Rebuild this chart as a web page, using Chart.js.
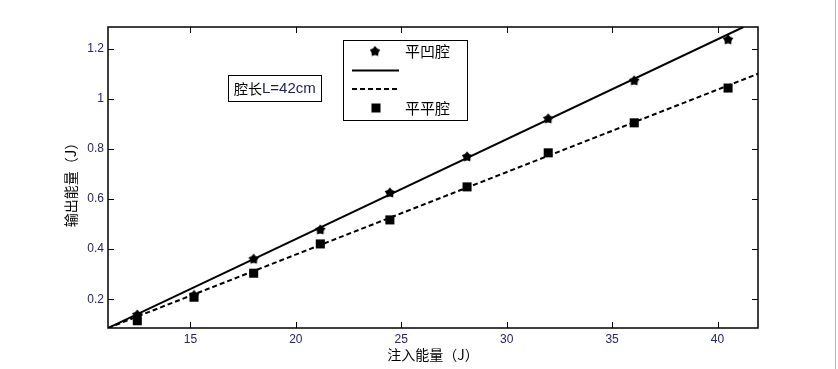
<!DOCTYPE html>
<html>
<head>
<meta charset="utf-8">
<script src="https://cdn.jsdelivr.net/npm/chart.js@4/dist/chart.umd.min.js"></script>
<style>
html,body{margin:0;padding:0;background:#fff;}
#wrap{position:relative;width:838px;height:369px;}
</style>
</head>
<body>
<div id="wrap"><canvas id="c" width="838" height="369"></canvas></div>
<script>
// ---- data ----
const injectedEnergy = [12.48, 15.17, 18.0, 21.16, 24.46, 28.12, 31.97, 36.05, 40.5];
const concaveOutput = [0.137, 0.215, 0.36, 0.477, 0.625, 0.769, 0.921, 1.073, 1.237];
const flatOutput    = [0.114, 0.208, 0.304, 0.421, 0.517, 0.649, 0.785, 0.905, 1.044];
const concaveFitX = [11.09, 41.23];
const concaveFitY = [0.085, 1.288];
const flatFitX = [11.09, 41.92];
const flatFitY = [0.085, 1.101];
const xTicks = [15, 20, 25, 30, 35, 40];
const yTicks = [0.2, 0.4, 0.6, 0.8, 1.0, 1.2];
const yTickLabels = ['0.2', '0.4', '0.6', '0.8', '1', '1.2'];
const legendLabels = ['平凹腔', '', '', '平平腔'];
const xTitle = '注入能量（J）';
const yTitle = '输出能量（J）';
const noteCJK = '腔长';
const noteLatin = 'L=42cm';

// filled pentagram marker (blob-like, as in the reference)
function makeStar(){
  const c = document.createElement('canvas');
  c.width = 12; c.height = 12;
  const g = c.getContext('2d');
  g.fillStyle = '#000';
  g.beginPath();
  for (let i = 0; i < 10; i++) {
    const r = i % 2 === 0 ? 5.5 : 3.6;
    const a = -Math.PI / 2 + i * Math.PI / 5;
    const px = 6 + r * Math.cos(a), py = 6 + r * Math.sin(a);
    if (i === 0) g.moveTo(px, py); else g.lineTo(px, py);
  }
  g.closePath(); g.fill();
  return c;
}
const starImg = makeStar();

const pts = (xs, ys) => xs.map((x, i) => ({x: x, y: ys[i]}));
const TICKCOL = '#26245e';

const framePlugin = {
  id: 'frame',
  beforeDraw(chart) {
    const ctx = chart.ctx;
    ctx.save();
    ctx.fillStyle = '#fff';
    ctx.fillRect(0, 0, chart.width, chart.height);
    ctx.strokeStyle = '#b4b4b4';
    ctx.lineWidth = 1;
    ctx.beginPath(); ctx.moveTo(835.5, 0); ctx.lineTo(835.5, chart.height); ctx.stroke();
    ctx.restore();
  },
  afterDraw(chart) {
    const ctx = chart.ctx, a = chart.chartArea;
    const xs = chart.scales.x, ys = chart.scales.y;
    ctx.save();
    ctx.strokeStyle = '#000';
    ctx.lineWidth = 1.5;
    ctx.strokeRect(a.left, a.top, a.right - a.left, a.bottom - a.top);
    ctx.lineWidth = 1;
    const tl = 6;
    ctx.beginPath();
    xTicks.forEach(v => {
      const p = Math.round(xs.getPixelForValue(v)) + 0.5;
      ctx.moveTo(p, a.bottom); ctx.lineTo(p, a.bottom - tl);
      ctx.moveTo(p, a.top); ctx.lineTo(p, a.top + tl);
    });
    yTicks.forEach(v => {
      const p = Math.round(ys.getPixelForValue(v)) + 0.5;
      ctx.moveTo(a.left, p); ctx.lineTo(a.left + tl, p);
      ctx.moveTo(a.right, p); ctx.lineTo(a.right - tl, p);
    });
    ctx.stroke();

    // axis titles
    ctx.fillStyle = '#000';
    ctx.font = '14px "Noto Sans CJK SC"';
    ctx.textAlign = 'center'; ctx.textBaseline = 'middle';
    ctx.fillText(xTitle, (a.left + a.right) / 2, 355);
    ctx.save();
    ctx.translate(71, (a.top + a.bottom) / 2 + 4);
    ctx.rotate(-Math.PI / 2);
    ctx.fillText(yTitle, 0, 0);
    ctx.restore();

    // note box
    ctx.fillStyle = '#fff';
    ctx.fillRect(228, 75, 94, 27);
    ctx.strokeStyle = '#000'; ctx.lineWidth = 1;
    ctx.strokeRect(228.5, 75.5, 93, 26);
    ctx.textAlign = 'left';
    ctx.fillStyle = '#000';
    ctx.font = '14px "Noto Sans CJK SC"';
    ctx.fillText(noteCJK, 234, 88.5);
    const w = ctx.measureText(noteCJK).width;
    ctx.fillStyle = '#1e1c5a';
    ctx.font = '15px "Liberation Sans"';
    ctx.fillText(noteLatin, 234 + w, 89);

    // legend box
    ctx.fillStyle = '#fff';
    ctx.fillRect(343, 40, 125, 81);
    ctx.strokeStyle = '#000'; ctx.lineWidth = 1;
    ctx.strokeRect(343.5, 40.5, 124, 80);
    const rows = [51.5, 70.5, 89, 108];
    ctx.drawImage(starImg, 375 - 6, rows[0] - 6);
    ctx.lineWidth = 2; ctx.setLineDash([]);
    ctx.beginPath(); ctx.moveTo(352, rows[1]); ctx.lineTo(399, rows[1]); ctx.stroke();
    ctx.setLineDash([5, 3]);
    ctx.beginPath(); ctx.moveTo(352, rows[2]); ctx.lineTo(399, rows[2]); ctx.stroke();
    ctx.setLineDash([]);
    ctx.fillStyle = '#000';
    ctx.fillRect(371.5, rows[3] - 4.5, 9, 9);
    ctx.font = '15px "Noto Sans CJK SC"';
    ctx.textBaseline = 'middle';
    legendLabels.forEach((t, i) => { if (t) ctx.fillText(t, 405, rows[i]); });
    ctx.restore();
  }
};

new Chart(document.getElementById('c'), {
  type: 'line',
  data: {
    datasets: [
      {label: legendLabels[0], type: 'scatter', data: pts(injectedEnergy, concaveOutput),
       pointStyle: starImg, pointRadius: 6, showLine: false},
      {label: legendLabels[3], type: 'scatter', data: pts(injectedEnergy, flatOutput),
       pointStyle: 'rect', pointRadius: 6.4, backgroundColor: '#000', borderColor: '#000',
       borderWidth: 0, showLine: false},
      {label: 'fit1', data: pts(concaveFitX, concaveFitY), borderColor: '#000',
       borderWidth: 2, pointRadius: 0, fill: false, tension: 0},
      {label: 'fit2', data: pts(flatFitX, flatFitY), borderColor: '#000',
       borderWidth: 2, borderDash: [5, 3], pointRadius: 0, fill: false, tension: 0}
    ]
  },
  options: {
    responsive: false,
    devicePixelRatio: 1,
    animation: false,
    layout: {padding: {top: 27, right: 80, left: 0, bottom: 0}},
    plugins: {legend: {display: false}, tooltip: {enabled: false}},
    scales: {
      x: {
        type: 'linear', min: 11.09, max: 41.92,
        afterFit: s => { s.height = 41; },
        afterBuildTicks: s => { s.ticks = xTicks.map(v => ({value: v})); },
        grid: {display: false, drawTicks: false},
        border: {display: false},
        ticks: {padding: 4, color: TICKCOL, font: {family: 'Liberation Sans', size: 12},
                maxRotation: 0, autoSkip: false, callback: v => String(v)}
      },
      y: {
        type: 'linear', min: 0.085, max: 1.288,
        afterFit: s => { s.width = 108; },
        afterBuildTicks: s => { s.ticks = yTicks.map(v => ({value: v})); },
        grid: {display: false, drawTicks: false},
        border: {display: false},
        ticks: {padding: 4, color: TICKCOL, font: {family: 'Liberation Sans', size: 12},
                autoSkip: false,
                callback: (v, i) => yTickLabels[i]}
      }
    }
  },
  plugins: [framePlugin]
});
</script>
</body>
</html>
